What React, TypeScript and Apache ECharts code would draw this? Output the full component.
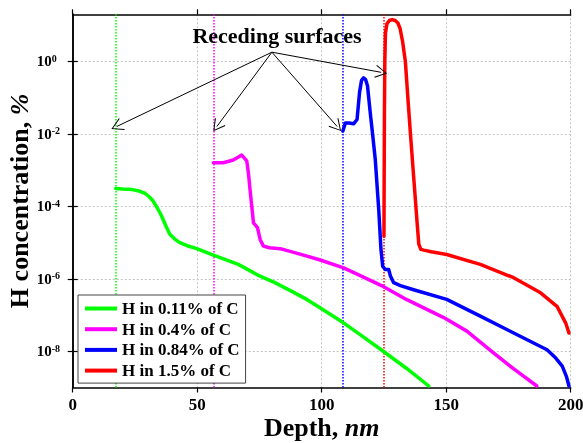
import React, { useEffect, useRef } from "react";
import * as echarts from "echarts";

const seriesNames = ["H in 0.11% of C", "H in 0.4% of C", "H in 0.84% of C", "H in 1.5% of C"];
const seriesColors = ["#00ff00", "#ff00ff", "#0000ff", "#ff0000"];
const surfaceDepths = [17.3, 56.5, 108.6, 125.1];

const greenDepth = [17.3, 20, 24, 27, 29, 30.5, 32.3, 34, 35.7, 37.3, 39, 41, 43, 46, 49.8, 56.5, 66.5, 75, 81, 88, 94, 99.3, 108.6, 116, 124.7, 134, 143];
const greenH = [3.1e-4, 3.0e-4, 2.9e-4, 2.6e-4, 2.3e-4, 1.9e-4, 1.4e-4, 9e-5, 5.4e-5, 3e-5, 1.7e-5, 1.25e-5, 1.0e-5, 8.2e-6, 6.8e-6, 4.5e-6, 2.5e-6, 1.2e-6, 8e-7, 4.5e-7, 2.7e-7, 1.6e-7, 6.2e-8, 2.7e-8, 1.0e-8, 3.4e-9, 1.1e-9];

const magentaDepth = [56.5, 60.5, 64.5, 67.9, 69.9, 70.6, 71.2, 72.6, 74.2, 75.3, 76.6, 79, 83.3, 91.3, 99.4, 108.8, 117, 124, 134, 149, 158.3, 169, 177, 186.4];
const magentaH = [1.6e-3, 1.6e-3, 1.9e-3, 2.6e-3, 1.8e-3, 8e-4, 3e-4, 3.5e-5, 2.6e-5, 1.2e-5, 8e-6, 7.2e-6, 6.8e-6, 4.8e-6, 3.3e-6, 2e-6, 1.1e-6, 6.5e-7, 2.7e-7, 8.5e-8, 3.6e-8, 9e-9, 3.3e-9, 1.1e-9];

const blueDepth = [108.5, 109.5, 111, 112.8, 114.2, 115.2, 116, 116.8, 117.6, 118.4, 119.5, 120.5, 121.5, 122.9, 123.8, 124.5, 125.6, 126.9, 127.6, 128.9, 131.6, 136.9, 150.2, 163.7, 177.1, 190.5, 194, 196.6, 198.3, 199.3];
const blueH = [1.2e-2, 2e-2, 2e-2, 1.9e-2, 2.5e-2, 0.14, 0.3, 0.35, 0.32, 0.21, 0.038, 9e-3, 2e-3, 8.3e-5, 6.5e-6, 2.2e-6, 1.8e-6, 1.8e-6, 1.2e-6, 7.8e-7, 6.5e-7, 5e-7, 2.7e-7, 9.3e-8, 3.2e-8, 1.1e-8, 6.5e-9, 3.9e-9, 2e-9, 1.1e-9];

const redDepth = [125.0, 125.1, 125.2, 125.35, 125.6, 126.2, 127.2, 128.3, 129.5, 130.6, 131.5, 132.5, 133.6, 134.6, 135.6, 136.6, 137.6, 138.4, 139.0, 139.8, 141, 144, 150.2, 163.7, 177.1, 187.9, 194.6, 198, 199.3];
const redH = [1.5e-5, 1e-3, 0.05, 1, 6, 11, 13.5, 14.3, 13.5, 11.5, 8, 3.5, 1.0, 0.1, 1.1e-2, 1.3e-3, 1.6e-4, 3e-5, 9e-6, 6.5e-6, 6.2e-6, 5.6e-6, 4.7e-6, 2.5e-6, 1.07e-6, 4.1e-7, 1.7e-7, 6e-8, 3.2e-8];

const yTickValues = [1e-8, 1e-6, 1e-4, 1e-2, 1];
const annotationText = "Receding surfaces";
const arrowOrigin = [80, 1.8];
const arrowTargets = [[17.7, 0.016], [57.9, 0.016], [106.2, 0.016], [123.9, 0.5]];

const depths = [greenDepth, magentaDepth, blueDepth, redDepth];
const values = [greenH, magentaH, blueH, redH];

const FONT = "'Liberation Serif', 'Times New Roman', serif";

const toPairs = (xs: number[], ys: number[]) => xs.map((x, i) => [x, ys[i]]);

export default function App() {
  const ref = useRef<HTMLDivElement>(null);
  useEffect(() => {
    if (!ref.current) return;
    const chart = echarts.init(ref.current, null, { renderer: "svg" });
    const axisLine = { show: true, lineStyle: { color: "#000", width: 1.5 } };
    const tick = { show: true, inside: false, length: 5, lineStyle: { color: "#000", width: 1.2 } };
    const series: any[] = seriesNames.map((name, i) => ({
      name,
      type: "line",
      data: toPairs(depths[i], values[i]),
      showSymbol: false,
      smooth: false,
      lineStyle: { color: seriesColors[i], width: 3.5, join: "round", cap: "round" },
      itemStyle: { color: seriesColors[i] },
      z: 3,
      markLine: {
        silent: true,
        symbol: "none",
        label: { show: false },
        lineStyle: { color: seriesColors[i], type: "dotted", width: 1.5 },
        data: [{ xAxis: surfaceDepths[i] }],
        z: 2,
      },
    }));
    series.push({
      name: "arrows",
      type: "line",
      data: [],
      markLine: {
        silent: true,
        symbol: ["none", "path://M-5,10 L0,0 L5,10 L4.3,10.5 L0,1.6 L-4.3,10.5 Z"],
        symbolSize: [13, 12],
        label: { show: false },
        lineStyle: { color: "#000", type: "solid", width: 1 },
        data: arrowTargets.map((t) => [{ coord: arrowOrigin }, { coord: t }]),
      },
    });
    chart.setOption({
      animation: false,
      textStyle: { fontFamily: FONT },
      grid: { left: 72.7, right: 12.3, top: 14.3, bottom: 55.5, containLabel: false, outerBoundsMode: "none" },
      legend: {
        data: seriesNames,
        orient: "vertical",
        left: 78,
        top: 295,
        padding: [5, 6, 4, 7],
        itemGap: 3.7,
        itemWidth: 32,
        itemHeight: 4,
        icon: "rect",
        backgroundColor: "#fff",
        borderColor: "#444",
        borderWidth: 1,
        textStyle: { fontFamily: FONT, fontWeight: "bold", fontSize: 17, color: "#000" },
      },
      graphic: [
        {
          type: "text",
          x: 277,
          y: 35,
          style: {
            text: annotationText,
            fontFamily: FONT,
            fontWeight: "bold",
            fontSize: 22,
            fill: "#000",
            textAlign: "center",
            textVerticalAlign: "middle",
          },
          z: 10,
        },
      ],
      xAxis: [
        {
          type: "value",
          min: 0,
          max: 200,
          interval: 50,
          name: "{b|Depth, }{i|nm}",
          nameLocation: "middle",
          nameGap: 27,
          nameMoveOverlap: false,
          nameTextStyle: {
            rich: {
              b: { fontFamily: FONT, fontWeight: "bold", fontSize: 26, color: "#000" },
              i: { fontFamily: FONT, fontWeight: "bold", fontStyle: "italic", fontSize: 26, color: "#000" },
            },
          },
          axisLine,
          axisTick: tick,
          axisLabel: { fontFamily: FONT, fontWeight: "bold", fontSize: 17, color: "#000", margin: 8 },
          splitLine: { show: true, lineStyle: { color: "#c4c4c4", type: [2, 2], width: 1 } },
        },
        {
          type: "value",
          position: "top",
          min: 0,
          max: 200,
          interval: 50,
          axisLine,
          axisTick: tick,
          axisLabel: { show: false },
          splitLine: { show: false },
        },
      ],
      yAxis: [
        {
          type: "log",
          logBase: 10,
          min: 1e-9,
          max: 20,
          name: "{b|H concentration, }{i|%}",
          nameLocation: "middle",
          nameRotate: 90,
          nameGap: 40,
          nameMoveOverlap: false,
          nameTextStyle: {
            rich: {
              b: { fontFamily: FONT, fontWeight: "bold", fontSize: 26, color: "#000" },
              i: { fontFamily: FONT, fontWeight: "bold", fontStyle: "italic", fontSize: 26, color: "#000" },
            },
          },
          axisLine,
          axisTick: { ...tick, customValues: yTickValues },
          axisLabel: {
            customValues: yTickValues,
            align: "left",
            margin: 36,
            formatter: (v: number) => `{b|10}{s|${Math.round(Math.log10(v))}}`,
            rich: {
              b: { fontFamily: FONT, fontWeight: "bold", fontSize: 15, color: "#000" },
              s: { fontFamily: FONT, fontWeight: "bold", fontSize: 10, color: "#000", verticalAlign: "top", padding: [0, 0, 6, 0] },
            },
          },
          splitLine: { show: true, lineStyle: { color: "#c4c4c4", type: [2, 2], width: 1 } },
          minorTick: { show: false },
        },
        {
          type: "log",
          logBase: 10,
          position: "right",
          min: 1e-9,
          max: 20,
          axisLine,
          axisTick: { ...tick, customValues: yTickValues },
          axisLabel: { show: false, customValues: yTickValues },
          splitLine: { show: false },
        },
      ],
      series,
    });
    return () => chart.dispose();
  }, []);
  return <div ref={ref} style={{ position: "fixed", left: 0, top: 0, width: 583, height: 443 }} />;
}
